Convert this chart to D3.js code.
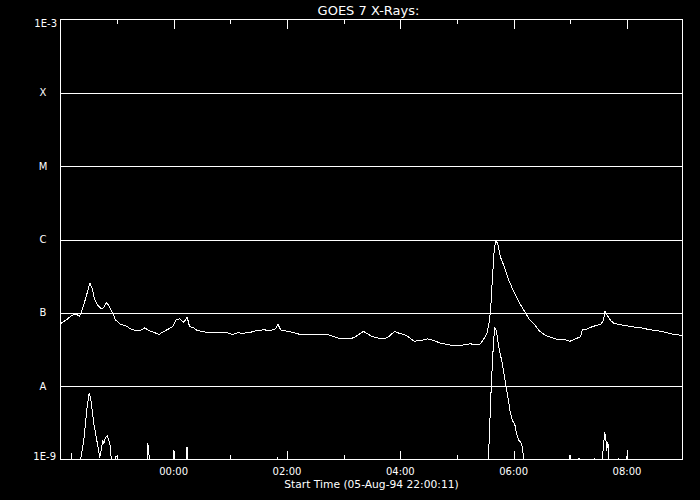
<!DOCTYPE html>
<html>
<head>
<meta charset="utf-8">
<script src="https://cdn.jsdelivr.net/npm/d3@7"></script>
<style>
  html, body { margin: 0; padding: 0; background: #000; }
  svg { display: block; }
  text { fill: #fff; font-family: "DejaVu Sans", sans-serif; }
</style>
</head>
<body>
<svg id="chart" width="700" height="500"></svg>
<script>
// ---- data (times are minutes after the start time 05-Aug-94 22:00:11 UT) ----
const titleText = "GOES 7 X-Rays:";
const startLabel = "Start Time (05-Aug-94 22:00:11)";

const longTimes = [0,1.8,5.3,10.6,14.1,17.7,20.1,22.2,26.5,31.1,
  33.6,36.0,39.6,43.1,45.9,48.7,51.2,54.8,58.3,63.6,
  68.8,74.1,79.4,84.7,89.3,93.5,98.8,104.1,109.4,114.7,
  118.9,122.5,126.0,130.6,134.2,136.6,141.2,144.8,150.1,157.1,
  176.6,181.9,187.2,194.2,201.3,208.4,215.4,222.5,227.8,230.3,
  233.1,240.2,247.2,254.2,268.3,282.5,289.5,296.6,307.2,312.5,
  316.0,320.7,324.9,330.2,335.5,342.5,347.8,353.8,358.4,363.7,
  369.0,374.3,381.3,388.4,395.4,402.4,409.5,416.5,423.6,428.9,
  434.2,439.5,444.8,448.3,451.9,453.6,455.4,457.2,458.9,460.7,
  463.1,466.0,469.5,474.8,480.1,485.4,490.7,496.0,501.3,506.6,
  513.7,520.8,527.8,534.9,539.4,545.5,550.8,552.5,556.1,561.4,
  566.7,572.0,574.8,576.5,579.0,582.6,586.1,593.2,603.8,614.4,
  625.0,635.6,646.2,653.3,659.0];
const longFlux = [7.1e-8,7.44e-8,7.85e-8,8.9e-8,9.5e-8,9.4e-8,8.9e-8,1.02e-7,1.55e-7,2.53e-7,
  2.12e-7,1.55e-7,1.26e-7,1.13e-7,1.19e-7,1.37e-7,1.26e-7,1.02e-7,8.0e-8,6.93e-8,
  6.7e-8,6.05e-8,5.74e-8,5.74e-8,6.24e-8,5.74e-8,5.44e-8,5.06e-8,5.56e-8,6.05e-8,
  6.5e-8,8.0e-8,8.28e-8,7.44e-8,8.7e-8,6.5e-8,6.24e-8,5.74e-8,5.56e-8,5.34e-8,
  5.34e-8,5.06e-8,5.34e-8,5.27e-8,5.44e-8,5.74e-8,5.86e-8,5.74e-8,6.05e-8,6.93e-8,
  5.86e-8,5.61e-8,5.34e-8,5.06e-8,5.01e-8,5.06e-8,4.75e-8,4.42e-8,4.42e-8,4.75e-8,
  5.06e-8,5.61e-8,5.17e-8,4.75e-8,4.56e-8,4.42e-8,4.75e-8,5.61e-8,5.27e-8,5.06e-8,
  4.65e-8,4.10e-8,4.19e-8,4.42e-8,4.19e-8,3.85e-8,3.70e-8,3.58e-8,3.58e-8,3.70e-8,
  3.78e-8,3.66e-8,3.78e-8,4.42e-8,5.44e-8,7.1e-8,1.075e-7,2.76e-7,6.38e-7,9.7e-7,
  8.7e-7,5.7e-7,4.4e-7,2.76e-7,1.91e-7,1.40e-7,1.075e-7,8.28e-8,7.1e-8,5.74e-8,
  4.9e-8,4.56e-8,4.28e-8,4.28e-8,4.10e-8,4.42e-8,4.75e-8,5.86e-8,5.9e-8,6.36e-8,
  6.7e-8,6.93e-8,7.85e-8,1.05e-7,9.2e-8,7.85e-8,7.2e-8,6.86e-8,6.5e-8,6.24e-8,
  5.86e-8,5.61e-8,5.17e-8,5.01e-8,4.9e-8];

const shortTimes = [0,11.1,11.7,12.2,21.2,24.6,28.2,30.3,31.8,35.3,
  38.8,41.6,43.4,44.8,45.9,47.7,49.5,51.2,52.9,53.7,
  57.7,58.2,60.0,60.5,92.2,92.5,93.5,94.1,119.7,119.9,
  120.3,132.9,133.2,134.3,134.6,179.7,180.1,180.4,229.7,230.0,
  230.4,453.3,453.6,454.7,456.2,458.2,459.6,461.4,464.2,467.8,
  471.3,473.7,475.9,478.4,480.9,483.0,485.4,487.2,489.0,490.7,
  539.0,539.4,539.8,548.5,548.9,549.3,565.1,565.5,565.9,573.7,
  574.8,576.1,577.2,578.3,579.6,580.7,590.8,591.2,591.6,599.7,
  600.1,600.5,659.0];
const shortFlux = [1e-9,1e-9,1.22e-9,1e-9,1e-9,1.82e-9,5.17e-9,7.87e-9,7.07e-9,3.07e-9,
  1.72e-9,1.075e-9,1.40e-9,1.82e-9,1.64e-9,2.01e-9,2.12e-9,1.82e-9,1.47e-9,1e-9,
  1e-9,1.075e-9,1.13e-9,1e-9,1e-9,1.64e-9,1.26e-9,1e-9,1e-9,1.33e-9,
  1e-9,1e-9,1.47e-9,1.44e-9,1e-9,1e-9,1.13e-9,1e-9,1e-9,1.075e-9,
  1e-9,1e-9,1.47e-9,3.40e-9,1.08e-8,3.40e-8,6.25e-8,5.74e-8,3.40e-8,2.02e-8,
  1.08e-8,7.07e-9,4.66e-9,3.40e-9,3.07e-9,2.24e-9,1.82e-9,1.72e-9,1.47e-9,1e-9,
  1e-9,1.13e-9,1e-9,1e-9,1.05e-9,1e-9,1e-9,1.04e-9,1e-9,1e-9,
  1.47e-9,2.31e-9,2.12e-9,1.33e-9,1.72e-9,1e-9,1e-9,1.05e-9,1e-9,1e-9,
  1.33e-9,1e-9,1e-9];

const classLabels = ["A", "B", "C", "M", "X"];
const classFlux = [1e-8, 1e-7, 1e-6, 1e-5, 1e-4];
const yDomain = [1e-9, 1e-3];
const yEndLabels = ["1E-9", "1E-3"];

(function () {
  // ---- layout ----
  const startDate = new Date(Date.UTC(1994, 7, 5, 22, 0, 11));
  const endDate = new Date(startDate.getTime() + 658.6 * 60000);
  const pL = 60.5, pR = 682.5, pT = 19.5, pB = 459.5;

  const svg = d3.select("#chart");
  svg.append("rect").attr("width", 700).attr("height", 500).attr("fill", "#000");

  const x = d3.scaleUtc().domain([startDate, endDate]).range([pL, pR]);
  const y = d3.scaleLog().domain(yDomain).range([pB, pT]).clamp(true);
  const toDate = m => new Date(startDate.getTime() + m * 60000);

  // class lines
  svg.append("g").selectAll("line").data(classFlux).join("line")
    .attr("x1", pL).attr("x2", pR)
    .attr("y1", d => Math.round(y(d)) + 0.5).attr("y2", d => Math.round(y(d)) + 0.5)
    .attr("stroke", "#fff").attr("stroke-width", 1).attr("shape-rendering", "crispEdges");

  // frame
  svg.append("rect").attr("x", pL).attr("y", pT)
    .attr("width", pR - pL).attr("height", pB - pT)
    .attr("fill", "none").attr("stroke", "#fff").attr("stroke-width", 1)
    .attr("shape-rendering", "crispEdges");

  // time ticks (top and bottom)
  const hours = d3.utcHour.range(d3.utcHour.ceil(startDate), endDate);
  const isMajor = d => d.getUTCHours() % 2 === 0;
  const tickG = svg.append("g").attr("stroke", "#fff").attr("shape-rendering", "crispEdges");
  hours.forEach(h => {
    const xx = Math.round(x(h)) + 0.5;
    const len = isMajor(h) ? 9 : 4.5;
    tickG.append("line").attr("x1", xx).attr("x2", xx).attr("y1", pT).attr("y2", pT + len);
    tickG.append("line").attr("x1", xx).attr("x2", xx).attr("y1", pB).attr("y2", pB - len);
  });
  const fmt = d3.utcFormat("%H:%M");
  svg.append("g").selectAll("text").data(hours.filter(isMajor)).join("text")
    .attr("x", d => x(d)).attr("y", pB + 15)
    .attr("text-anchor", "middle").attr("font-size", 10)
    .text(d => fmt(d));

  // y labels
  svg.append("g").selectAll("text").data(classFlux).join("text")
    .attr("x", 43).attr("y", d => y(d) + 3.6)
    .attr("text-anchor", "middle").attr("font-size", 10)
    .text((d, i) => classLabels[i]);
  svg.append("text").attr("x", 57).attr("y", y(yDomain[1]) + 7.3)
    .attr("text-anchor", "end").attr("font-size", 10).text(yEndLabels[1]);
  svg.append("text").attr("x", 56).attr("y", y(yDomain[0]) + 0.5)
    .attr("text-anchor", "end").attr("font-size", 10).text(yEndLabels[0]);

  // title and x label
  svg.append("text").attr("x", (pL + pR) / 2 - 3).attr("y", 14.5)
    .attr("text-anchor", "middle").attr("font-size", 13).text(titleText);
  svg.append("text").attr("x", (pL + pR) / 2).attr("y", 487.5)
    .attr("text-anchor", "middle").attr("font-size", 10.7).text(startLabel);

  // curves
  const line = d3.line().x(d => x(toDate(d[0]))).y(d => y(d[1]));
  const longData = longTimes.map((t, i) => [t, longFlux[i]]);
  const shortData = shortTimes.map((t, i) => [t, shortFlux[i]]);
  [longData, shortData].forEach(data => {
    svg.append("path").datum(data).attr("d", line)
      .attr("fill", "none").attr("stroke", "#fff").attr("stroke-width", 1)
      .attr("stroke-linejoin", "round").attr("shape-rendering", "crispEdges");
  });
})();
</script>
</body>
</html>
